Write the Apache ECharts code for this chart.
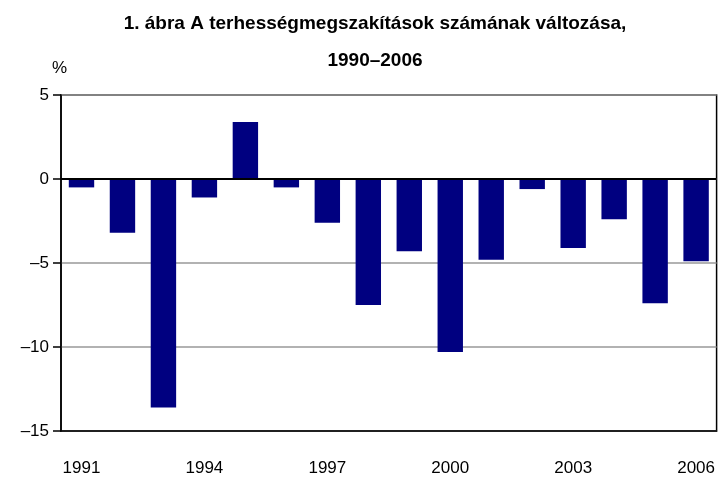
<!DOCTYPE html>
<html>
<head>
<meta charset="utf-8">
<script src="https://cdn.jsdelivr.net/npm/echarts@6/dist/echarts.min.js"></script>
<style>
  html, body { margin: 0; padding: 0; background: #fff; }
  #chart { width: 718px; height: 479px; }
</style>
</head>
<body>
<div id="chart"></div>
<script>
// Évek és a változás (%)
const years = ['1991', '1992', '1993', '1994', '1995', '1996', '1997', '1998',
  '1999', '2000', '2001', '2002', '2003', '2004', '2005', '2006']
const changes = [-0.5, -3.2, -13.6, -1.1, 3.4, -0.5, -2.6, -7.5,
  -4.3, -10.3, -4.8, -0.6, -4.1, -2.4, -7.4, -4.9]
const yTicks = [-15, -10, -5, 0, 5]

const FONT = '"Liberation Sans Narrow", "Liberation Sans", Arial, sans-serif'

const chart = echarts.init(document.getElementById('chart'))
const option = {
  animation: false,
  title: {
    text: '1. ábra A terhességmegszakítások számának változása,\n1990–2006',
    left: 370,
    textAlign: 'center',
    top: 0,
    textStyle: {
      fontFamily: FONT,
      fontSize: 19,
      fontWeight: 'bold',
      color: '#000',
      lineHeight: 37
    }
  },
  graphic: [
    {
      type: 'text',
      left: 52,
      top: 60,
      style: { text: '%', font: '17px ' + FONT, fill: '#000' }
    }
  ],
  grid: {
    left: 61,
    right: 1,
    top: 95,
    bottom: 48,
    show: true,
    borderColor: '#000',
    borderWidth: 1.5
  },
  xAxis: {
    type: 'category',
    data: years,
    axisLine: { onZero: false, lineStyle: { color: '#000', width: 1.5 } },
    axisTick: { show: false },
    axisLabel: {
      interval: 2, // minden harmadik év
      margin: 29,
      fontFamily: FONT,
      fontSize: 17,
      color: '#000'
    }
  },
  yAxis: {
    type: 'value',
    min: yTicks[0],
    max: yTicks[yTicks.length - 1],
    interval: 5,
    axisLine: { show: true, lineStyle: { color: '#000', width: 1.5 } },
    axisTick: { show: true, length: 8, lineStyle: { color: '#000', width: 1.5 } },
    axisLabel: {
      margin: 12,
      fontFamily: FONT,
      fontSize: 17,
      color: '#000',
      formatter: (v) => (v < 0 ? '–' + Math.abs(v) : String(v))
    },
    splitLine: { lineStyle: { color: '#999', width: 1.5 } }
  },
  series: [
    {
      type: 'bar',
      data: changes,
      barCategoryGap: '38%',
      itemStyle: { color: '#000080' },
      markLine: {
        silent: true,
        symbol: 'none',
        label: { show: false },
        lineStyle: { color: '#000', width: 2, type: 'solid' },
        data: [{ yAxis: 0 }]
      }
    }
  ]
}
chart.setOption(option)
</script>
</body>
</html>
